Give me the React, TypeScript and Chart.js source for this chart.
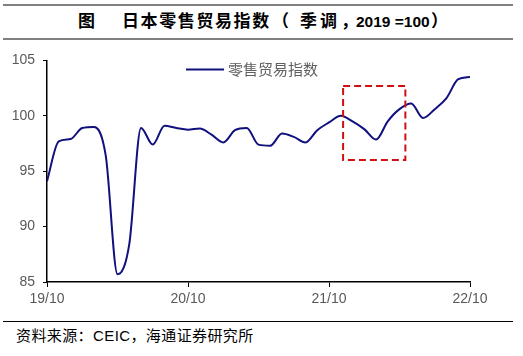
import React, { useEffect, useRef } from "react";
import { Chart, registerables } from "chart.js";

Chart.register(...registerables);

const months: string[] = [
  "19/10", "19/11", "19/12", "20/01", "20/02", "20/03", "20/04", "20/05", "20/06", "20/07", "20/08", "20/09",
  "20/10", "20/11", "20/12", "21/01", "21/02", "21/03", "21/04", "21/05", "21/06", "21/07", "21/08", "21/09",
  "21/10", "21/11", "21/12", "22/01", "22/02", "22/03", "22/04", "22/05", "22/06", "22/07", "22/08", "22/09",
  "22/10",
];
const retailIndex: number[] = [
  94.1, 97.7, 97.9, 98.9, 99.0, 96.4, 85.7, 88.4, 98.9, 97.4, 99.1, 98.9,
  98.75, 98.85, 98.3, 97.6, 98.7, 98.9, 97.4, 97.3, 98.4, 98.1, 97.6, 98.7,
  99.4, 100.0, 99.5, 98.8, 97.85, 99.5, 100.6, 101.1, 99.8, 100.6, 101.6, 103.3,
  103.5,
];
const xTickIndices: number[] = [0, 12, 24, 36];
const yTicks: number[] = [85, 90, 95, 100, 105];
const seriesName = "零售贸易指数";
// highlight box in data units: [xStartIndex, xEndIndex, yLow, yHigh]
const highlightBox: number[] = [25.2, 30.5, 96.0, 102.7];

export default function App() {
  const canvasRef = useRef<HTMLCanvasElement | null>(null);

  useEffect(() => {
    document.body.style.margin = "0";
    const canvas = canvasRef.current;
    if (!canvas) return;
    const overlay = {
      id: "overlay",
      afterDatasetsDraw(chart: any) {
        const ctx = chart.ctx;
        const xs = chart.scales.x;
        const ys = chart.scales.y;
        const x1 = xs.getPixelForValue(highlightBox[0]);
        const x2 = xs.getPixelForValue(highlightBox[1]);
        const y1 = ys.getPixelForValue(highlightBox[3]);
        const y2 = ys.getPixelForValue(highlightBox[2]);
        ctx.save();
        ctx.strokeStyle = "#d01010";
        ctx.lineWidth = 2;
        ctx.setLineDash([7, 4]);
        ctx.strokeRect(x1, y1, x2 - x1, y2 - y1);
        ctx.restore();
        const ca = chart.chartArea;
        const lx = ca.left + 139;
        const ly = ca.top + 9;
        ctx.save();
        ctx.strokeStyle = "#10107e";
        ctx.lineWidth = 2;
        ctx.beginPath();
        ctx.moveTo(lx, ly);
        ctx.lineTo(lx + 38, ly);
        ctx.stroke();
        ctx.fillStyle = "#606060";
        ctx.font = '15px "Noto Sans CJK SC"';
        ctx.textBaseline = "middle";
        ctx.textAlign = "left";
        ctx.fillText(seriesName, lx + 42, ly);
        ctx.restore();
      },
    };

    const chart = new Chart(canvas, {
      type: "line",
      data: {
        datasets: [
          {
            label: seriesName,
            data: retailIndex.map((v, i) => ({ x: i, y: v })),
            borderColor: "#10107e",
            borderWidth: 2,
            pointRadius: 0,
            tension: 0.4,
            cubicInterpolationMode: "monotone",
            fill: false,
          },
        ],
      },
      options: {
        animation: false,
        responsive: false,
        maintainAspectRatio: false,
        devicePixelRatio: 1,
        layout: { padding: { top: 15, right: 42, left: 0, bottom: 0 } },
        plugins: { legend: { display: false }, tooltip: { enabled: false } },
        scales: {
          x: {
            type: "linear",
            min: 0,
            max: months.length - 1,
            afterBuildTicks: (scale: any) => {
              scale.ticks = xTickIndices.map((v) => ({ value: v }));
            },
            afterFit: (scale: any) => {
              scale.height = 33;
            },
            ticks: {
              callback: (v: any) => months[Number(v)] ?? "",
              color: "#595959",
              font: { family: "Liberation Sans", size: 14 },
              padding: 4,
              maxRotation: 0,
              autoSkip: false,
            },
            grid: {
              drawOnChartArea: false,
              drawTicks: true,
              tickLength: 5,
              color: "#000000",
            },
            border: { display: true, color: "#000000", width: 1.5 },
          },
          y: {
            min: 85,
            max: 105,
            afterBuildTicks: (scale: any) => {
              scale.ticks = yTicks.map((v) => ({ value: v }));
            },
            afterFit: (scale: any) => {
              scale.width = 42;
            },
            ticks: {
              color: "#595959",
              font: { family: "Liberation Sans", size: 14 },
              padding: 8,
            },
            grid: {
              drawOnChartArea: false,
              drawTicks: true,
              tickLength: 4,
              color: "#000000",
            },
            border: { display: true, color: "#000000", width: 1.5 },
          },
        },
      },
      plugins: [overlay],
    } as any);
    return () => chart.destroy();
  }, []);

  const cjk = '"Liberation Sans", "Noto Sans CJK SC", sans-serif';
  const t = (left: number, text: string, extra: any = {}) => (
    <span
      style={{
        position: "absolute",
        left,
        top: 10,
        fontFamily: cjk,
        fontWeight: 700,
        fontSize: 17,
        lineHeight: "24px",
        color: "#000",
        whiteSpace: "nowrap",
        ...extra,
      }}
    >
      {text}
    </span>
  );
  return (
    <div style={{ position: "fixed", left: 0, top: 0, width: 523, height: 356, background: "#fff", overflow: "hidden" }}>
      <div style={{ position: "absolute", left: 3, top: 4, width: 510, height: 0, borderTop: "2px solid #808080" }} />
      {t(78, "图")}
      {t(122, "日本零售贸易指数", { letterSpacing: 1.6 })}
      {t(272, "（")}
      {t(300, "季调", { letterSpacing: 3 })}
      {t(341, "，")}
      {t(356, "2019 =100", { fontSize: 15.5, top: 10 })}
      {t(431, "）")}
      <div style={{ position: "absolute", left: 3, top: 38, width: 510, height: 0, borderTop: "2px solid #808080" }} />
      <canvas
        ref={canvasRef}
        width={507}
        height={271}
        style={{ position: "absolute", left: 5, top: 44, width: 507, height: 271 }}
      />
      <div style={{ position: "absolute", left: 3, top: 321, width: 510, height: 0, borderTop: "1px solid #000" }} />
      <div
        style={{
          position: "absolute",
          left: 16,
          top: 326,
          fontFamily: cjk,
          fontSize: 15,
          letterSpacing: 0.4,
          lineHeight: "20px",
          color: "#000",
          whiteSpace: "nowrap",
        }}
      >
        资料来源：CEIC，海通证券研究所
      </div>
    </div>
  );
}
